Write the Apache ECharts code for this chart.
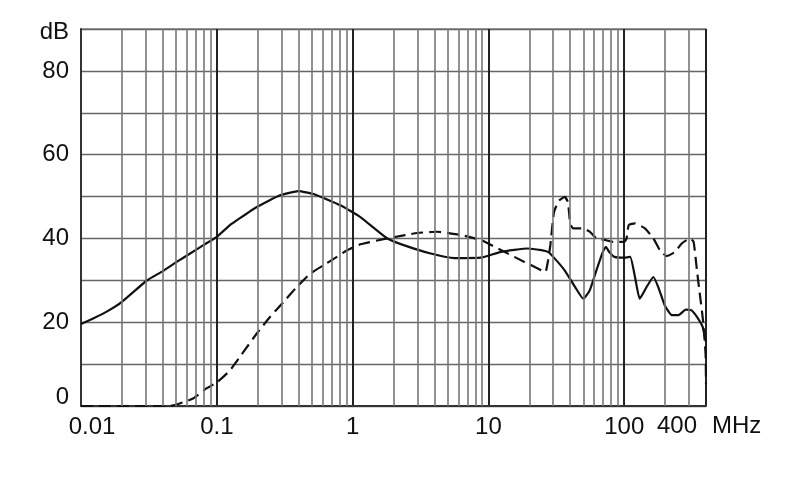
<!DOCTYPE html>
<html>
<head>
<meta charset="utf-8">
<script src="https://cdn.jsdelivr.net/npm/echarts@6/dist/echarts.min.js"></script>
<style>
html,body{margin:0;padding:0;background:#fff;}
#chart{width:790px;height:499px;}
</style>
</head>
<body>
<div id="chart"></div>
<script>
// Frequency (MHz) / level (dB) pairs
const solidCurve = [
  [0.01,19.6],[0.0125,21],[0.0158,22.7],[0.0199,24.8],[0.0304,29.9],[0.04,32.2],[0.0506,34.4],
  [0.0636,36.4],[0.0796,38.4],[0.1,40.4],[0.125,43.2],[0.14,44.3],[0.197,47.5],[0.292,50.3],
  [0.4,51.3],[0.516,50.6],[0.813,47.9],[1.14,45.1],[1.8,40.0],[2.53,38.1],[3.76,36.4],[5.6,35.3],
  [8.8,35.4],[12.4,36.8],[19.5,37.6],[24.5,37.2],[27.4,36.8],[30,35.6],[36.4,32.4],[43.5,28.4],
  [50,25.6],[55.7,27.6],[62.4,32.4],[69.6,36.8],[73.3,38.0],[77.4,36.8],[84.7,35.6],[100,35.4],
  [110.6,35.6],[120,30.8],[130,25.6],[146,28.4],[164,30.8],[178,28.4],[199,24.0],[224,21.7],
  [251,21.7],[284,23.0],[311,22.9],[343,21.3],[378,18.9],[400,15.3]
];
const dashedCurve = [
  [0.01,0],[0.045,0],[0.0533,0.6],[0.0668,1.8],[0.0838,4.2],[0.1,5.6],[0.125,8.5],[0.157,12.9],
  [0.197,17.3],[0.247,21.3],[0.309,24.8],[0.388,28.4],[0.487,31.6],[0.61,33.6],[0.765,35.6],
  [0.91,37.2],[1.14,38.6],[1.8,40.0],[3.0,41.3],[4.2,41.6],[6.3,40.8],[8.8,39.6],[13.1,36.8],
  [18.4,34.4],[24.5,32.4],[26.3,32.0],[27.5,34.8],[28.6,38.5],[30.4,46.3],[33,49.0],[36.4,49.9],
  [38.5,48.7],[40,43.6],[42,42.4],[49.7,42.4],[55.7,41.6],[62.4,40.0],[70.5,39.7],[83,39.2],
  [100,39.2],[104,40.0],[108,43.2],[120,43.6],[142,42.4],[164,40.0],[183,37.2],[205,35.8],
  [237,36.8],[265,38.8],[305,40.0],[324,39.2],[343,32.4],[360,26.8],[380,20.5],[397,12.5],[400,5.3]
];
const minorGridFreqs = [
  0.02,0.03,0.04,0.05,0.06,0.07,0.08,0.09,
  0.2,0.3,0.4,0.5,0.6,0.7,0.8,0.9,
  2,3,4,5,6,7,8,9,
  20,30,40,50,60,70,80,90,
  200,300
];
const xTickLabels = ['0.01','0.1','1','10','100'];
const yTickLabels = [0,20,40,60,80];
const xMin = 0.01, xMax = 400;
const yMin = 0, yMax = 90, yStep = 10;

const FONT = '"Liberation Sans", Arial, sans-serif';
const chart = echarts.init(document.getElementById('chart'));
chart.setOption({
  animation: false,
  backgroundColor: '#fff',
  grid: {left: 81, right: 84, top: 29, bottom: 93, show: true, borderColor: '#888', borderWidth: 1.3},
  xAxis: {
    type: 'log', logBase: 10, min: xMin, max: xMax,
    axisLine: {show: true, lineStyle: {color: '#333', width: 2}},
    axisTick: {show: false},
    splitLine: {show: true, lineStyle: {color: '#222', width: 2}},
    axisLabel: {
      margin: 9, fontFamily: FONT, fontSize: 24, color: '#111',
      formatter: function (v) {
        const s = String(+v.toPrecision(6));
        if (xTickLabels.indexOf(s) < 0) return '';
        return s === '0.01' ? '{a|' + s + '}' : s;
      },
      rich: {a: {fontFamily: FONT, fontSize: 24, color: '#111', padding: [0, 0, 0, 22]}}
    }
  },
  yAxis: {
    type: 'value', min: yMin, max: yMax, interval: yStep,
    axisLine: {show: true, lineStyle: {color: '#333', width: 2}},
    axisTick: {show: false},
    splitLine: {show: true, lineStyle: {color: '#666', width: 1.3}},
    axisLabel: {
      margin: 12, fontFamily: FONT, fontSize: 24, color: '#111',
      formatter: function (v) {
        if (v === yMax) return '{d|dB}';
        if (v === 0) return '{z|0}';
        return yTickLabels.indexOf(v) >= 0 ? String(v) : '';
      },
      rich: {
        z: {fontFamily: FONT, fontSize: 24, color: '#111', padding: [0, 0, 17, 0]},
        d: {fontFamily: FONT, fontSize: 24, color: '#111', padding: [7, 0, 0, 0]}
      }
    }
  },
  graphic: [
    {type: 'text', left: 657, top: 414, style: {text: '400', font: '24px ' + FONT, fill: '#111'}},
    {type: 'text', left: 712, top: 414, style: {text: 'MHz', font: '24px ' + FONT, fill: '#111'}}
  ],
  series: [
    {
      type: 'line', data: [], z: 1, silent: true,
      markLine: {
        silent: true, symbol: ['none', 'none'], animation: false,
        label: {show: false},
        lineStyle: {color: '#777', width: 1.6, type: 'solid'},
        emphasis: {disabled: true},
        data: minorGridFreqs.map(f => ({xAxis: f}))
      }
    },
    {
      type: 'line', data: solidCurve, z: 3, showSymbol: false, smooth: 0.15,
      lineStyle: {color: '#111', width: 2.2}
    },
    {
      type: 'line', data: dashedCurve, z: 3, showSymbol: false, smooth: 0.15,
      lineStyle: {color: '#111', width: 2.2, type: [12, 6]}
    }
  ]
});
</script>
</body>
</html>
